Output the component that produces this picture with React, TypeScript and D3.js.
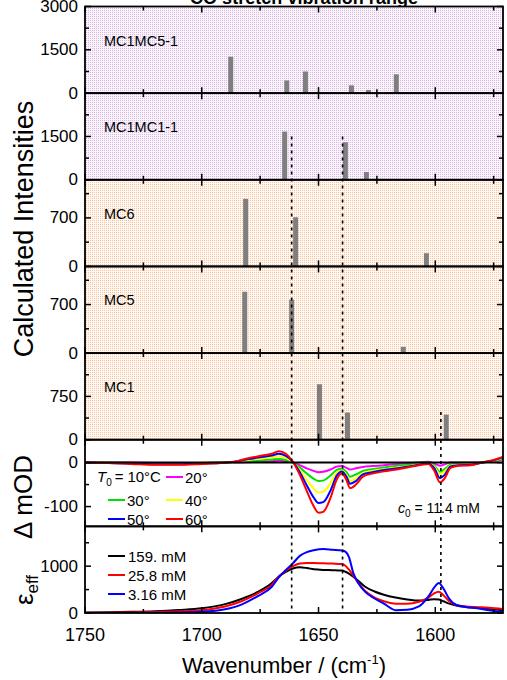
import React from "react";
import * as d3 from "d3";

// ---- calculated stick spectra (cm-1 / intensity) ----
const mc1mc5Pos = [1687.6, 1663.6, 1655.6, 1635.9, 1628.6, 1616.7];
const mc1mc5Int = [1260, 440, 750, 270, 110, 650];
const mc1mc1Pos = [1664.5, 1638.5, 1629.5];
const mc1mc1Int = [1670, 1300, 270];
const mc6Pos = [1681.2, 1659.8, 1603.8];
const mc6Int = [975, 710, 190];
const mc5Pos = [1681.6, 1661.5, 1613.7];
const mc5Int = [885, 770, 90];
const mc1Pos = [1649.6, 1637.6, 1595.3];
const mc1Int = [960, 470, 435];

// ---- temperature difference spectra, mOD ----
const dWn = [1750, 1740, 1730, 1720, 1710, 1700, 1692, 1686, 1680, 1675, 1670, 1667, 1664, 1661,
  1658, 1655, 1652, 1650, 1648, 1645, 1642, 1640, 1638, 1636.5, 1634, 1631, 1627, 1622, 1616, 1610,
  1606, 1603, 1600.5, 1598, 1596, 1593.5, 1590, 1585, 1580, 1575, 1571];
const d20 = [0, 0, 0, -1, -1, -1, 0, 0, 1, 2, 3, 4, 3, 0, -6, -13, -19, -22, -21, -16, -9, -8, -12, -16,
  -13, -10, -8, -6, -3, -1, 1, 2, -2, -7, -4, 0, 0, 0, 1, 3, 7];
const d30 = [0, 0, -1, -2, -2, -1, 0, 1, 3, 5, 7, 8, 6, 0, -11, -25, -37, -42, -41, -30, -16, -14, -22,
  -32, -27, -19, -15, -11, -7, -4, 0, 1, -6, -21, -15, -5, -3, -2, 1, 4, 9];
const d40 = [0, -1, -2, -3, -3, -2, -1, 1, 6, 9, 12, 15, 11, 1, -17, -40, -60, -68, -66, -48, -22, -18,
  -28, -42, -36, -24, -19, -15, -11, -7, -3, -1, -9, -26, -20, -7, -5, -4, 0, 4, 11];
const d50 = [0, -1, -2, -4, -4, -2, -1, 2, 8, 12, 16, 20, 15, 2, -22, -52, -80, -92, -90, -65, -28, -20,
  -32, -48, -42, -27, -22, -17, -13, -8, -4, -2, -12, -35, -28, -9, -6, -5, 0, 5, 12];
const d60 = [0, -1, -3, -5, -5, -3, -1, 2, 10, 15, 20, 26, 20, 2, -28, -65, -100, -114, -112, -82, -36,
  -25, -40, -58, -50, -32, -25, -20, -15, -9, -5, -3, -18, -45, -36, -12, -7, -6, 0, 6, 13];
const dLabels = ["20°", "30°", "40°", "50°", "60°"];

// ---- effective extinction at three concentrations ----
const eWn = [1750, 1740, 1730, 1720, 1710, 1700, 1690, 1683, 1676, 1670, 1667, 1664, 1661, 1658, 1655,
  1652, 1648, 1644, 1640, 1638.5, 1637, 1635, 1633, 1630, 1626, 1622, 1617, 1612, 1607, 1603, 1600.5,
  1598.5, 1596.5, 1594, 1591, 1587, 1582, 1577, 1571];
const e159 = [10, 15, 25, 40, 65, 100, 190, 300, 450, 640, 780, 880, 950, 975, 960, 935, 920, 915, 905,
  880, 840, 770, 690, 560, 460, 390, 330, 290, 265, 280, 295, 290, 250, 200, 160, 130, 110, 90, 60];
const e258 = [5, 8, 12, 20, 35, 60, 140, 250, 420, 600, 780, 900, 1000, 1055, 1070, 1070, 1060, 1055,
  1045, 1010, 930, 790, 650, 470, 330, 250, 200, 195, 240, 330, 420, 455, 380, 250, 170, 140, 125, 110, 85];
const e316 = [0, 0, 2, 5, 10, 25, 80, 180, 360, 560, 760, 920, 1060, 1220, 1300, 1340, 1365, 1350, 1335,
  1310, 1200, 840, 640, 450, 310, 200, 60, 70, 140, 350, 540, 640, 520, 300, 170, 130, 100, 60, 15];
const eLabels = ["159. mM", "25.8 mM", "3.16 mM"];

// reference lines (cm-1)
const markerWn = [1661.5, 1639.7, 1597.6];

const xTicksMajor = [1750, 1700, 1650, 1600];
const xTicksMinor = [1725, 1675, 1625, 1575];

const W = 507, H = 680;
const LEFT = 85, RIGHT = 503, TOP = 6.5, BOTTOM = 613;
const PH = (BOTTOM - TOP) / 7;
const FONT = "'Liberation Sans', Arial, Helvetica, sans-serif";

const x = d3.scaleLinear().domain([1750, 1571]).range([LEFT, RIGHT]);

type Panel = {
  name?: string; domain: [number, number]; labels: number[]; minor: number[];
  bg: string; pos?: number[]; val?: number[];
};

const panels: Panel[] = [
  { name: "MC1MC5-1", domain: [0, 3000], labels: [0, 1500, 3000], minor: [750, 2250], bg: "url(#lilac)", pos: mc1mc5Pos, val: mc1mc5Int },
  { name: "MC1MC1-1", domain: [0, 3000], labels: [0, 1500], minor: [750, 2250], bg: "url(#lilac)", pos: mc1mc1Pos, val: mc1mc1Int },
  { name: "MC6", domain: [0, 1250], labels: [0, 700], minor: [350, 1050], bg: "url(#peach)", pos: mc6Pos, val: mc6Int },
  { name: "MC5", domain: [0, 1250], labels: [0, 700], minor: [350, 1050], bg: "url(#peach)", pos: mc5Pos, val: mc5Int },
  { name: "MC1", domain: [0, 1500], labels: [0, 750], minor: [375, 1125], bg: "url(#peach)", pos: mc1Pos, val: mc1Int },
  { domain: [-145, 52], labels: [0, -100], minor: [-50], bg: "#fff" },
  { domain: [0, 1850], labels: [0, 1000], minor: [500, 1500], bg: "#fff" },
];

const yScales = panels.map((p, i) =>
  d3.scaleLinear().domain(p.domain).range([TOP + PH * (i + 1), TOP + PH * i]));

const dSeries = [d20, d30, d40, d50, d60];
const dColors = ["#ff00ff", "#00e000", "#ffff00", "#0000ff", "#ff0000"];
const eSeries = [e159, e258, e316];
const eColors = ["#000000", "#ff0000", "#0000ff"];

function Frame({ i }: { i: number }) {
  const p = panels[i];
  const y = yScales[i];
  const y0 = TOP + PH * i, y1 = TOP + PH * (i + 1);
  return (
    <g stroke="#000" strokeWidth={1.5}>
      {xTicksMajor.map(t => (
        <g key={"M" + t}>
          <line x1={x(t)} x2={x(t)} y1={y1} y2={y1 - 6} />
          <line x1={x(t)} x2={x(t)} y1={y0} y2={y0 + 6} />
        </g>
      ))}
      {xTicksMinor.map(t => (
        <g key={"m" + t}>
          <line x1={x(t)} x2={x(t)} y1={y1} y2={y1 - 4} />
          <line x1={x(t)} x2={x(t)} y1={y0} y2={y0 + 4} />
        </g>
      ))}
      {p.labels.map(t => (
        <g key={"yl" + t}>
          <line x1={LEFT} x2={LEFT + 6} y1={y(t)} y2={y(t)} />
          <line x1={RIGHT} x2={RIGHT - 6} y1={y(t)} y2={y(t)} />
        </g>
      ))}
      {p.minor.map(t => (
        <g key={"ym" + t}>
          <line x1={LEFT} x2={LEFT + 4} y1={y(t)} y2={y(t)} />
          <line x1={RIGHT} x2={RIGHT - 4} y1={y(t)} y2={y(t)} />
        </g>
      ))}
      <rect x={LEFT} y={y0} width={RIGHT - LEFT} height={PH} fill="none" strokeWidth={1.8} />
    </g>
  );
}

export default function App() {
  const lineD = d3.line<number>().curve(d3.curveMonotoneX);
  const yd = yScales[5], ye = yScales[6];
  return (
    <svg width={W} height={H} style={{ position: "absolute", left: 0, top: 0 }} fontFamily={FONT}>
      <defs>
        <pattern id="lilac" width={2} height={2} patternUnits="userSpaceOnUse">
          <rect width={2} height={2} fill="#faf5fb" />
          <rect width={1} height={1} fill="#d8b6e6" />
        </pattern>
        <pattern id="peach" width={2} height={2} patternUnits="userSpaceOnUse">
          <rect width={2} height={2} fill="#fff8f3" />
          <rect width={1} height={1} fill="#f8c3a0" />
        </pattern>
        <clipPath id="clipD"><rect x={LEFT} y={TOP + PH * 5} width={RIGHT - LEFT} height={PH} /></clipPath>
        <clipPath id="clipE"><rect x={LEFT} y={TOP + PH * 6} width={RIGHT - LEFT} height={PH} /></clipPath>
      </defs>
      <rect width={W} height={H} fill="#fff" />

      <text x={304} y={4} fontSize={18} fontWeight="bold" textAnchor="middle" textLength={228}>
        CO stretch vibration range
      </text>

      {panels.map((p, i) => (
        <rect key={"bg" + i} x={LEFT} y={TOP + PH * i} width={RIGHT - LEFT} height={PH} fill={p.bg} />
      ))}

      {/* stick spectra */}
      {panels.map((p, i) => p.pos ? p.pos.map((w, j) => (
        <rect key={`b${i}-${j}`} x={x(w) - 2.5} width={5}
          y={yScales[i](p.val![j])} height={yScales[i](0) - yScales[i](p.val![j])} fill="#7f7f7f" />
      )) : null)}

      {/* difference spectra */}
      <g clipPath="url(#clipD)" fill="none" strokeWidth={2}>
        {dSeries.map((s, k) => (
          <path key={"d" + k} stroke={dColors[k]}
            d={lineD(s.map((v, j) => [x(dWn[j]), yd(v)]) as any) || ""} />
        ))}
      </g>
      <line x1={LEFT} x2={RIGHT} y1={yd(0)} y2={yd(0)} stroke="#000" strokeWidth={2} />

      {/* extinction */}
      <g clipPath="url(#clipE)" fill="none" strokeWidth={2}>
        {eSeries.map((s, k) => (
          <path key={"e" + k} stroke={eColors[k]}
            d={lineD(s.map((v, j) => [x(eWn[j]), ye(v)]) as any) || ""} />
        ))}
      </g>

      {/* dotted marker lines */}
      <g stroke="#000" strokeWidth={1.6} strokeDasharray="3,4">
        <line x1={x(markerWn[0])} x2={x(markerWn[0])} y1={yScales[1](1500)} y2={BOTTOM} />
        <line x1={x(markerWn[1])} x2={x(markerWn[1])} y1={yScales[1](1500)} y2={BOTTOM} />
        <line x1={x(markerWn[2])} x2={x(markerWn[2])} y1={yScales[4](480)} y2={BOTTOM} />
      </g>

      {panels.map((_, i) => <Frame key={"f" + i} i={i} />)}

      {/* y tick labels */}
      <g fontSize={17} textAnchor="end">
        {panels.map((p, i) => p.labels.map(t => (
          <text key={`yl${i}-${t}`} x={78} y={yScales[i](t) + 5.5}>{t}</text>
        )))}
      </g>

      {/* x tick labels */}
      <g fontSize={18} textAnchor="middle">
        {xTicksMajor.map(t => <text key={"xl" + t} x={x(t)} y={641}>{t}</text>)}
      </g>

      {/* panel names */}
      <g fontSize={14.5}>
        {panels.map((p, i) => p.name ? (
          <text key={"n" + i} x={104} y={TOP + PH * i + 39}>{p.name}</text>
        ) : null)}
      </g>

      {/* ΔmOD legend */}
      <g fontSize={15}>
        <text x={97} y={482}><tspan fontStyle="italic">T</tspan><tspan fontSize={10} dy={4}>0</tspan><tspan dy={-4} dx={3} textLength={46}>= 10°C</tspan></text>
        {dLabels.map((lab, k) => {
          const col = (k + 1) % 2, row = Math.floor((k + 1) / 2);
          const lx = col === 0 ? 108 : 166;
          const ly = [477, 500, 519][row];
          return (
            <g key={"dl" + k}>
              <line x1={lx} x2={lx + 17} y1={ly} y2={ly} stroke={dColors[k]} strokeWidth={2} />
              <text x={lx + 19} y={ly + 5.5}>{lab}</text>
            </g>
          );
        })}
        <text x={398} y={513} fontSize={14}><tspan fontStyle="italic">c</tspan><tspan fontSize={10} dy={4}>0</tspan><tspan dy={-4}> = 11.4 mM</tspan></text>
      </g>

      {/* extinction legend */}
      <g fontSize={15}>
        {eLabels.map((lab, k) => (
          <g key={"el" + k}>
            <line x1={108} x2={125} y1={556 + 19 * k} y2={556 + 19 * k} stroke={eColors[k]} strokeWidth={2} />
            <text x={128} y={561.5 + 19 * k}>{lab}</text>
          </g>
        ))}
      </g>

      {/* axis titles */}
      <text transform="translate(33,229) rotate(-90)" fontSize={27} textAnchor="middle">Calculated Intensities</text>
      <text transform="translate(32,497) rotate(-90)" fontSize={26} textAnchor="middle">Δ mOD</text>
      <text transform="translate(33,590) rotate(-90)" fontSize={26} textAnchor="middle">
        ε<tspan fontSize={17} dy={5}>eff</tspan>
      </text>
      <text x={284} y={673} fontSize={22} textAnchor="middle">
        Wavenumber / (cm<tspan fontSize={13} dy={-9}>-1</tspan><tspan dy={9}>)</tspan>
      </text>
    </svg>
  );
}
